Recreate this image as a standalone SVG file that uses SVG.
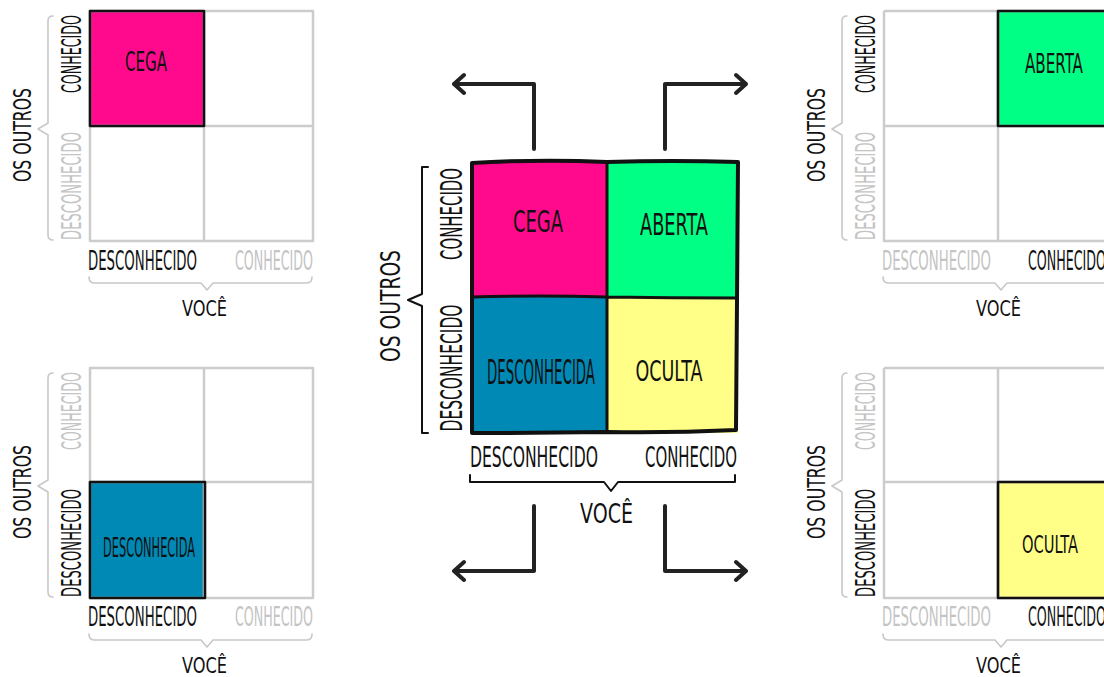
<svg xmlns="http://www.w3.org/2000/svg" width="1104" height="677" viewBox="0 0 1104 677">
<defs>
<style>
text{font-family:"DejaVu Sans Condensed","DejaVu Sans",sans-serif;fill:#111;}
.g{fill:#c4c4c4;}
.c{text-anchor:middle;}
.gl{fill:none;stroke:#cccccc;stroke-width:2.5;stroke-linejoin:round;}
.br{fill:none;stroke:#c8c8c8;stroke-width:1.6;stroke-linejoin:round;stroke-linecap:round;}
.hb{stroke:#111;stroke-width:2.6;stroke-linejoin:round;}
.cb{fill:none;stroke:#111;stroke-width:2;stroke-linejoin:round;stroke-linecap:round;}
.cg{fill:none;stroke:#111;stroke-width:4;stroke-linejoin:round;stroke-linecap:round;}
.ar{fill:none;stroke:#222;stroke-width:4;stroke-linejoin:round;stroke-linecap:round;}
.s26{font-size:26px;}
.s24{font-size:24px;}
.s22{font-size:22px;}
</style>
</defs>
<rect width="1104" height="677" fill="#ffffff"/>

<!-- top-left panel: CEGA -->
<g id="panel-cega">
<rect x="90" y="11" width="114" height="115" fill="#ff0a8c"/>
<path class="gl" d="M90,11 L313,11 L313,241 L90,241 Z M204,11 L204,241 M90,126 L313,126"/>
<rect class="hb" x="90" y="11" width="114" height="115" fill="none"/>
<text class="c s26" x="146" y="71" textLength="42" lengthAdjust="spacingAndGlyphs">CEGA</text>
<path class="br" d="M53,16 Q48,16 48,21 L48,123 L38,129 L48,135 L48,235 Q48,240 53,240"/>
<text class="c s24" transform="translate(31,135) rotate(-90)" textLength="94" lengthAdjust="spacingAndGlyphs">OS OUTROS</text>
<text class="c s26" transform="translate(81,54) rotate(-90)" textLength="78" lengthAdjust="spacingAndGlyphs">CONHECIDO</text>
<text class="c s26 g" transform="translate(81,186) rotate(-90)" textLength="108" lengthAdjust="spacingAndGlyphs">DESCONHECIDO</text>
<text class="s26" x="88" y="270" textLength="109" lengthAdjust="spacingAndGlyphs">DESCONHECIDO</text>
<text class="s26 g" x="235" y="270" textLength="78" lengthAdjust="spacingAndGlyphs">CONHECIDO</text>
<path class="br" d="M89,277 Q89,283 94,283 L201,283 L207,290 L213,283 L307,283 Q312,283 312,277"/>
<text class="s22" x="182" y="316" textLength="45" lengthAdjust="spacingAndGlyphs">VOCÊ</text>
</g>

<!-- bottom-left panel: DESCONHECIDA -->
<g id="panel-desconhecida" transform="translate(0,357)">
<rect x="90" y="125" width="115" height="116" fill="#0089b5"/>
<path class="gl" d="M90,11 L313,11 L313,241 L90,241 Z M204,11 L204,241 M90,125 L313,125"/>
<rect class="hb" x="90" y="125" width="115" height="116" fill="none"/>
<text class="c" style="font-size:27px" x="149" y="200" textLength="92" lengthAdjust="spacingAndGlyphs">DESCONHECIDA</text>
<path class="br" d="M53,16 Q48,16 48,21 L48,123 L38,129 L48,135 L48,235 Q48,240 53,240"/>
<text class="c s24" transform="translate(31,135) rotate(-90)" textLength="94" lengthAdjust="spacingAndGlyphs">OS OUTROS</text>
<text class="c s26 g" transform="translate(81,54) rotate(-90)" textLength="78" lengthAdjust="spacingAndGlyphs">CONHECIDO</text>
<text class="c s26" transform="translate(81,186) rotate(-90)" textLength="108" lengthAdjust="spacingAndGlyphs">DESCONHECIDO</text>
<text class="s26" x="88" y="269" textLength="109" lengthAdjust="spacingAndGlyphs">DESCONHECIDO</text>
<text class="s26 g" x="235" y="269" textLength="78" lengthAdjust="spacingAndGlyphs">CONHECIDO</text>
<path class="br" d="M89,277 Q89,283 94,283 L201,283 L207,290 L213,283 L307,283 Q312,283 312,277"/>
<text class="s22" x="182" y="316" textLength="45" lengthAdjust="spacingAndGlyphs">VOCÊ</text>
</g>

<!-- top-right panel: ABERTA -->
<g id="panel-aberta" transform="translate(794,0)">
<rect x="204" y="11" width="116" height="115" fill="#00ff85"/>
<path class="gl" d="M90,11 L320,11 M90,11 L90,241 L320,241 M204,11 L204,241 M90,126 L320,126"/>
<path class="hb" fill="none" d="M320,11 L204,11 L204,126 L320,126"/>
<text class="c s26" x="260" y="73" textLength="58" lengthAdjust="spacingAndGlyphs">ABERTA</text>
<path class="br" d="M53,16 Q48,16 48,21 L48,123 L38,129 L48,135 L48,235 Q48,240 53,240"/>
<text class="c s24" transform="translate(31,135) rotate(-90)" textLength="94" lengthAdjust="spacingAndGlyphs">OS OUTROS</text>
<text class="c s26" transform="translate(81,54) rotate(-90)" textLength="78" lengthAdjust="spacingAndGlyphs">CONHECIDO</text>
<text class="c s26 g" transform="translate(81,186) rotate(-90)" textLength="108" lengthAdjust="spacingAndGlyphs">DESCONHECIDO</text>
<text class="s26 g" x="88" y="270" textLength="109" lengthAdjust="spacingAndGlyphs">DESCONHECIDO</text>
<text class="s26" x="234" y="270" textLength="78" lengthAdjust="spacingAndGlyphs">CONHECIDO</text>
<path class="br" d="M89,277 Q89,283 94,283 L201,283 L207,290 L213,283 L320,283"/>
<text class="s22" x="182" y="316" textLength="45" lengthAdjust="spacingAndGlyphs">VOCÊ</text>
</g>

<!-- bottom-right panel: OCULTA -->
<g id="panel-oculta" transform="translate(794,357)">
<rect x="204" y="125" width="116" height="116" fill="#ffff88"/>
<path class="gl" d="M90,11 L320,11 M90,11 L90,241 L320,241 M204,11 L204,241 M90,125 L320,125"/>
<path class="hb" fill="none" d="M320,125 L204,125 L204,241 L320,241"/>
<text class="c" style="font-size:24px" x="256" y="196" textLength="56" lengthAdjust="spacingAndGlyphs">OCULTA</text>
<path class="br" d="M53,16 Q48,16 48,21 L48,123 L38,129 L48,135 L48,235 Q48,240 53,240"/>
<text class="c s24" transform="translate(31,135) rotate(-90)" textLength="94" lengthAdjust="spacingAndGlyphs">OS OUTROS</text>
<text class="c s26 g" transform="translate(81,54) rotate(-90)" textLength="78" lengthAdjust="spacingAndGlyphs">CONHECIDO</text>
<text class="c s26" transform="translate(81,186) rotate(-90)" textLength="108" lengthAdjust="spacingAndGlyphs">DESCONHECIDO</text>
<text class="s26 g" x="88" y="269" textLength="109" lengthAdjust="spacingAndGlyphs">DESCONHECIDO</text>
<text class="s26" x="234" y="269" textLength="78" lengthAdjust="spacingAndGlyphs">CONHECIDO</text>
<path class="br" d="M89,277 Q89,283 94,283 L201,283 L207,290 L213,283 L320,283"/>
<text class="s22" x="182" y="316" textLength="45" lengthAdjust="spacingAndGlyphs">VOCÊ</text>
</g>

<!-- center matrix -->
<g id="center-matrix">
<rect x="472" y="162" width="135" height="135" fill="#ff0a8c"/>
<rect x="607" y="162" width="131" height="135" fill="#00ff85"/>
<rect x="472" y="297" width="135" height="136" fill="#0089b5"/>
<rect x="607" y="297" width="131" height="136" fill="#ffff88"/>
<path class="cg" d="M472,163 Q540,159 607,162 Q672,160 738,162 L737,300 L736,430 Q672,433 607,432 Q540,433 472,433 L472,300 Z"/>
<path class="cg" style="stroke-width:3" d="M607,162 L607,432 M472,297 Q540,295 607,297 Q672,298 737,298"/>
<text class="c" style="font-size:30px" x="538" y="232" textLength="50" lengthAdjust="spacingAndGlyphs">CEGA</text>
<text class="c" style="font-size:31px" x="674" y="235" textLength="68" lengthAdjust="spacingAndGlyphs">ABERTA</text>
<text class="c" style="font-size:33px" x="541" y="384" textLength="108" lengthAdjust="spacingAndGlyphs">DESCONHECIDA</text>
<text class="c" style="font-size:29px" x="669" y="381" textLength="67" lengthAdjust="spacingAndGlyphs">OCULTA</text>
<path class="cb" d="M428,167 L422,167 L422,294 L408,300 L422,306 L422,433 L428,433"/>
<text class="c" style="font-size:27px" transform="translate(400,306) rotate(-90)" textLength="112" lengthAdjust="spacingAndGlyphs">OS OUTROS</text>
<text class="c" style="font-size:31px" transform="translate(462,214) rotate(-90)" textLength="92" lengthAdjust="spacingAndGlyphs">CONHECIDO</text>
<text class="c" style="font-size:31px" transform="translate(462,368) rotate(-90)" textLength="127" lengthAdjust="spacingAndGlyphs">DESCONHECIDO</text>
<text style="font-size:29px" x="470" y="467" textLength="128" lengthAdjust="spacingAndGlyphs">DESCONHECIDO</text>
<text style="font-size:29px" x="645" y="467" textLength="92" lengthAdjust="spacingAndGlyphs">CONHECIDO</text>
<path class="cb" d="M470,475 L470,482 L604,482 L611,491 L618,482 L735,482 L735,475"/>
<text style="font-size:26px" x="580" y="523" textLength="53" lengthAdjust="spacingAndGlyphs">VOCÊ</text>
</g>

<!-- connectors -->
<g id="connectors">
<path class="ar" d="M534,149 L534,84 L454,84 M464,75 L454,84 L464,93"/>
<path class="ar" d="M665,149 L665,84 L746,84 M736,75 L746,84 L736,93"/>
<path class="ar" d="M534,506 L534,571 L454,571 M464,562 L454,571 L464,580"/>
<path class="ar" d="M665,506 L665,571 L746,571 M736,562 L746,571 L736,580"/>
</g>
</svg>
